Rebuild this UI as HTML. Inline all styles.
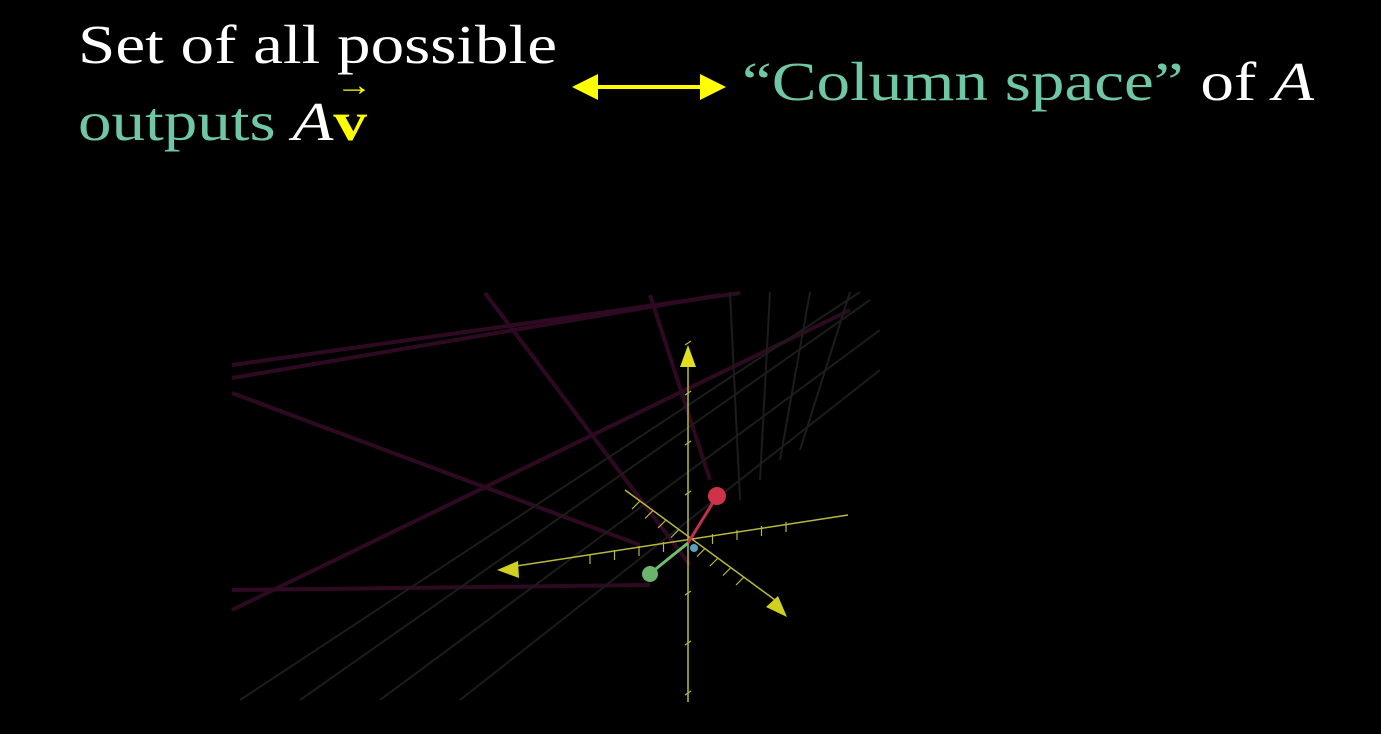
<!DOCTYPE html>
<html><head><meta charset="utf-8"><style>
body{margin:0;width:1381px;height:734px;background:#000;overflow:hidden;position:relative;font-family:"Liberation Serif",serif}
.t{position:absolute;font-size:55px;color:#fff;white-space:nowrap;line-height:1;transform:scaleX(1.22);transform-origin:0 0}
.g{color:#6fc7a5}
</style></head><body>
<div class="t" style="left:78px;top:17px">Set of all possible</div>
<div class="t" style="left:78px;top:94px"><span class="g">outputs</span> <i>A</i><b style="color:#ffff00;position:relative">v<span style="position:absolute;left:2px;top:-20px;font-size:30px;font-weight:normal">→</span></b></div>
<div class="t" style="left:742px;top:54px"><span class="g">“Column space”</span> of <i>A</i></div>
<svg style="position:absolute;left:0;top:0" width="1381" height="734">
<line x1="590" y1="87" x2="708" y2="87" stroke="#ffff00" stroke-width="4"/>
<polygon points="572,87 598,74 598,100" fill="#ffff00"/>
<polygon points="726,87 700,74 700,100" fill="#ffff00"/>
</svg>
<svg id="scene" style="position:absolute;left:0;top:0" width="1381" height="734">
<g stroke="#2e0a22" stroke-width="4">
<line x1="232" y1="365" x2="740" y2="293"/>
<line x1="232" y1="378" x2="720" y2="295"/>
<line x1="232" y1="393" x2="640" y2="545"/>
<line x1="485" y1="293" x2="690" y2="565"/>
<line x1="232" y1="610" x2="850" y2="310"/>
<line x1="232" y1="590" x2="650" y2="585"/>
<line x1="650" y1="295" x2="710" y2="480"/>
</g>
<g stroke="#1c1c1c" stroke-width="2">
<line x1="300" y1="700" x2="870" y2="300"/>
<line x1="380" y1="700" x2="880" y2="330"/>
<line x1="460" y1="700" x2="880" y2="370"/>
<line x1="240" y1="700" x2="860" y2="292"/>
<line x1="730" y1="292" x2="740" y2="500"/>
<line x1="770" y1="292" x2="760" y2="480"/>
<line x1="810" y1="292" x2="780" y2="460"/>
<line x1="850" y1="292" x2="800" y2="450"/>
</g>
<g stroke="#b8b840" stroke-width="1.5">
<line x1="688" y1="365" x2="688" y2="702"/>
<line x1="510" y1="567" x2="848" y2="515"/>
<line x1="625" y1="490" x2="775" y2="600"/>
</g>
<polygon points="688,345 680,367 696,367" fill="#e0e020"/>
<polygon points="497,570 518,561 519,578" fill="#d0d020"/>
<polygon points="787,617 766,607 778,596" fill="#d0d020"/>
<line x1="688" y1="543" x2="717" y2="496" stroke="#c03050" stroke-width="3"/>
<circle cx="717" cy="496" r="9" fill="#d0324a"/>
<line x1="688" y1="543" x2="652" y2="572" stroke="#70c070" stroke-width="3"/>
<circle cx="650" cy="574" r="8" fill="#6cb46c"/>
<circle cx="694" cy="548" r="4" fill="#5aa0c0"/>
<g id="ticks" stroke="#b8b840" stroke-width="1.2"></g>
</svg>
<script>
const tickIdx=[-4,-3,-2,-1,1,2,3,4];
const g=document.getElementById('ticks');
const ox=688,oy=543;
const axes=[[0,-50,3,-2],[24.5,-4,0,5],[-13,-9.5,4,-4]];
axes.forEach(a=>{tickIdx.forEach(i=>{
 const x=ox+a[0]*i,y=oy+a[1]*i;
 const l=document.createElementNS('http://www.w3.org/2000/svg','line');
 
 
 l.setAttribute('x1',x-a[2]);l.setAttribute('y1',y-a[3]);l.setAttribute('x2',x+a[2]);l.setAttribute('y2',y+a[3]);
 g.appendChild(l);});});
</script>
</body></html>
